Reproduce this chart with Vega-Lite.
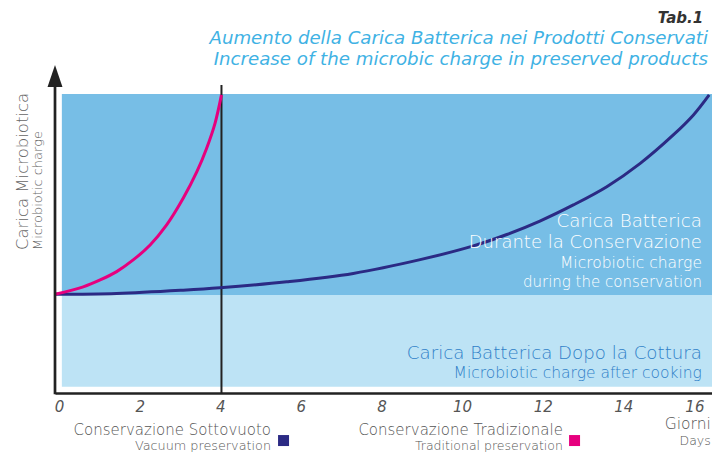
{
  "$schema": "https://vega.github.io/schema/vega-lite/v6.json",
  "width": 657,
  "height": 299,
  "autosize": {"type": "none"},
  "padding": {"left": 55, "top": 94, "right": 0, "bottom": 59},
  "background": "#ffffff",
  "config": {"view": {"stroke": null}, "font": "DejaVu Sans", "text": {"font": "DejaVu Sans"}},
  "data": {"values": [{}]},
  "resolve": {"scale": {"color": "independent"}},
  "datasets": {
    "zones": [
      {"zone": "dopo la cottura", "x0": 0.07, "x1": 16.2, "y0": 2.1, "y1": 32.8},
      {"zone": "durante la conservazione", "x0": 0.07, "x1": 16.2, "y0": 32.8, "y1": 100}
    ],
    "curves": [
      {"serie": "Sottovuoto", "giorni": -0.1, "carica": 33.0},
      {"serie": "Sottovuoto", "giorni": 1.43, "carica": 33.3},
      {"serie": "Sottovuoto", "giorni": 3.08, "carica": 34.4},
      {"serie": "Sottovuoto", "giorni": 3.99, "carica": 35.2},
      {"serie": "Sottovuoto", "giorni": 5.65, "carica": 37.2},
      {"serie": "Sottovuoto", "giorni": 7.3, "carica": 40.0},
      {"serie": "Sottovuoto", "giorni": 8.96, "carica": 44.6},
      {"serie": "Sottovuoto", "giorni": 10.28, "carica": 49.2},
      {"serie": "Sottovuoto", "giorni": 11.11, "carica": 53.0},
      {"serie": "Sottovuoto", "giorni": 11.93, "carica": 57.5},
      {"serie": "Sottovuoto", "giorni": 12.76, "carica": 62.9},
      {"serie": "Sottovuoto", "giorni": 13.59, "carica": 69.0},
      {"serie": "Sottovuoto", "giorni": 14.42, "carica": 76.8},
      {"serie": "Sottovuoto", "giorni": 15.24, "carica": 86.3},
      {"serie": "Sottovuoto", "giorni": 15.74, "carica": 93.0},
      {"serie": "Sottovuoto", "giorni": 16.13, "carica": 99.7},
      {"serie": "Tradizionale", "giorni": -0.1, "carica": 33.0},
      {"serie": "Tradizionale", "giorni": 0.6, "carica": 35.5},
      {"serie": "Tradizionale", "giorni": 1.02, "carica": 37.8},
      {"serie": "Tradizionale", "giorni": 1.43, "carica": 40.6},
      {"serie": "Tradizionale", "giorni": 1.84, "carica": 44.5},
      {"serie": "Tradizionale", "giorni": 2.26, "carica": 49.5},
      {"serie": "Tradizionale", "giorni": 2.67, "carica": 56.2},
      {"serie": "Tradizionale", "giorni": 3.08, "carica": 65.1},
      {"serie": "Tradizionale", "giorni": 3.42, "carica": 74.0},
      {"serie": "Tradizionale", "giorni": 3.66, "carica": 81.8},
      {"serie": "Tradizionale", "giorni": 3.87, "carica": 90.2},
      {"serie": "Tradizionale", "giorni": 4.03, "carica": 99.7}
    ]
  },
  "layer": [
    {
      "data": {"name": "zones"},
      "mark": {"type": "rect"},
      "encoding": {
        "x": {"field": "x0", "type": "quantitative", "scale": {"domain": [-0.1, 16.2], "nice": false, "zero": false},
          "axis": {"values": [0, 2, 4, 6, 8, 10, 12, 14, 16], "title": null, "ticks": false, "grid": false,
            "domainColor": "#222222", "domainWidth": 2.7, "labelFont": "DejaVu Sans", "labelFontStyle": "italic", "labelFontWeight": 200,
            "labelFontSize": 15, "labelColor": "#555555", "labelPadding": 6, "labelFlush": false,
            "labelAlign": {"condition": {"test": "datum.value == 16", "value": "right"}, "value": "center"}}},
        "x2": {"field": "x1"},
        "y": {"field": "y0", "type": "quantitative", "scale": {"domain": [0, 100], "nice": false, "zero": false}, "axis": null},
        "y2": {"field": "y1"},
        "color": {"field": "zone", "type": "nominal", "scale": {"domain": ["dopo la cottura", "durante la conservazione"], "range": ["#bde3f5", "#77bee6"]}, "legend": null}
      }
    },
    {
      "mark": {"type": "rule", "color": "#222222", "strokeWidth": 2},
      "encoding": {"x": {"datum": 4.03}, "y": {"datum": 0}, "y2": {"datum": 103}}
    },
    {
      "data": {"name": "curves"},
      "mark": {"type": "line", "interpolate": "catmull-rom", "strokeWidth": 3},
      "encoding": {
        "x": {"field": "giorni", "type": "quantitative"},
        "y": {"field": "carica", "type": "quantitative"},
        "stroke": {"field": "serie", "type": "nominal", "scale": {"domain": ["Sottovuoto", "Tradizionale"], "range": ["#2b2a84", "#e6007e"]}, "legend": null}
      }
    },
    {
      "mark": {"type": "rule", "color": "#222222", "strokeWidth": 2.7},
      "encoding": {"x": {"datum": -0.1}, "y": {"datum": -0.4}, "y2": {"datum": 104}}
    },
    {
      "mark": {"type": "point", "shape": "M-0.68,1L0,-1L0.68,1Z", "filled": true, "color": "#222222", "opacity": 1, "size": 484},
      "encoding": {"x": {"datum": -0.1}, "y": {"datum": 106}}
    },
    {
      "mark": {"type": "text", "text": "Tab.1", "align": "right", "baseline": "alphabetic", "fontSize": 15, "fontStyle": "italic", "fontWeight": "bold", "color": "#333333"},
      "encoding": {"x": {"datum": 15.98}, "y": {"datum": 123.7}}
    },
    {
      "mark": {"type": "text", "text": "Aumento della Carica Batterica nei Prodotti Conservati", "align": "right", "baseline": "alphabetic", "fontSize": 18.2, "fontStyle": "italic", "fontWeight": 200, "color": "#3fb2e4"},
      "encoding": {"x": {"datum": 16.1}, "y": {"datum": 116.7}}
    },
    {
      "mark": {"type": "text", "text": "Increase of the microbic charge in preserved products", "align": "right", "baseline": "alphabetic", "fontSize": 18.2, "fontStyle": "italic", "fontWeight": 200, "color": "#3fb2e4"},
      "encoding": {"x": {"datum": 16.1}, "y": {"datum": 109.7}}
    },
    {
      "mark": {"type": "text", "text": "Carica Batterica", "align": "right", "baseline": "alphabetic", "fontSize": 18.2, "fontWeight": 200, "color": "#ffffff"},
      "encoding": {"x": {"datum": 15.95}, "y": {"datum": 55.5}}
    },
    {
      "mark": {"type": "text", "text": "Durante la Conservazione", "align": "right", "baseline": "alphabetic", "fontSize": 18, "fontWeight": 200, "color": "#ffffff"},
      "encoding": {"x": {"datum": 15.95}, "y": {"datum": 48.5}}
    },
    {
      "mark": {"type": "text", "text": "Microbiotic charge", "align": "right", "baseline": "alphabetic", "fontSize": 15.5, "fontWeight": 200, "color": "#ffffff"},
      "encoding": {"x": {"datum": 15.95}, "y": {"datum": 41.9}}
    },
    {
      "mark": {"type": "text", "text": "during the conservation", "align": "right", "baseline": "alphabetic", "fontSize": 15, "fontWeight": 200, "color": "#ffffff"},
      "encoding": {"x": {"datum": 15.95}, "y": {"datum": 35.6}}
    },
    {
      "mark": {"type": "text", "text": "Carica Batterica Dopo la Cottura", "align": "right", "baseline": "alphabetic", "fontSize": 18.2, "fontWeight": 200, "color": "#2f80c8"},
      "encoding": {"x": {"datum": 15.95}, "y": {"datum": 11.4}}
    },
    {
      "mark": {"type": "text", "text": "Microbiotic charge after cooking", "align": "right", "baseline": "alphabetic", "fontSize": 15.5, "fontWeight": 200, "color": "#2f80c8"},
      "encoding": {"x": {"datum": 15.95}, "y": {"datum": 5.0}}
    },
    {
      "mark": {"type": "text", "text": "Carica Microbiotica", "align": "left", "baseline": "alphabetic", "angle": 270, "fontSize": 16.5, "fontWeight": 200, "color": "#666666"},
      "encoding": {"x": {"datum": -0.76}, "y": {"datum": 47.8}}
    },
    {
      "mark": {"type": "text", "text": "Microbiotic charge", "align": "left", "baseline": "alphabetic", "angle": 270, "fontSize": 13, "fontWeight": 200, "color": "#666666"},
      "encoding": {"x": {"datum": -0.42}, "y": {"datum": 47.8}}
    },
    {
      "mark": {"type": "text", "text": "Conservazione Sottovuoto", "align": "right", "baseline": "alphabetic", "fontSize": 15, "fontWeight": 200, "color": "#555555"},
      "encoding": {"x": {"datum": 5.26}, "y": {"datum": -13.9}}
    },
    {
      "mark": {"type": "text", "text": "Vacuum preservation", "align": "right", "baseline": "alphabetic", "fontSize": 12.8, "fontWeight": 200, "color": "#555555"},
      "encoding": {"x": {"datum": 5.26}, "y": {"datum": -19.2}}
    },
    {
      "mark": {"type": "point", "shape": "square", "filled": true, "opacity": 1, "color": "#2b2a84", "size": 121},
      "encoding": {"x": {"datum": 5.57}, "y": {"datum": -15.9}}
    },
    {
      "mark": {"type": "text", "text": "Conservazione Tradizionale", "align": "right", "baseline": "alphabetic", "fontSize": 15, "fontWeight": 200, "color": "#555555"},
      "encoding": {"x": {"datum": 12.5}, "y": {"datum": -13.9}}
    },
    {
      "mark": {"type": "text", "text": "Traditional preservation", "align": "right", "baseline": "alphabetic", "fontSize": 12.5, "fontWeight": 200, "color": "#555555"},
      "encoding": {"x": {"datum": 12.5}, "y": {"datum": -19.2}}
    },
    {
      "mark": {"type": "point", "shape": "square", "filled": true, "opacity": 1, "color": "#e6007e", "size": 121},
      "encoding": {"x": {"datum": 12.79}, "y": {"datum": -15.9}}
    },
    {
      "mark": {"type": "text", "text": "Giorni", "align": "right", "baseline": "alphabetic", "fontSize": 15.5, "fontWeight": 200, "color": "#555555"},
      "encoding": {"x": {"datum": 16.17}, "y": {"datum": -12.0}}
    },
    {
      "mark": {"type": "text", "text": "Days", "align": "right", "baseline": "alphabetic", "fontSize": 12.5, "fontWeight": 200, "color": "#555555"},
      "encoding": {"x": {"datum": 16.17}, "y": {"datum": -17.4}}
    }
  ]
}
